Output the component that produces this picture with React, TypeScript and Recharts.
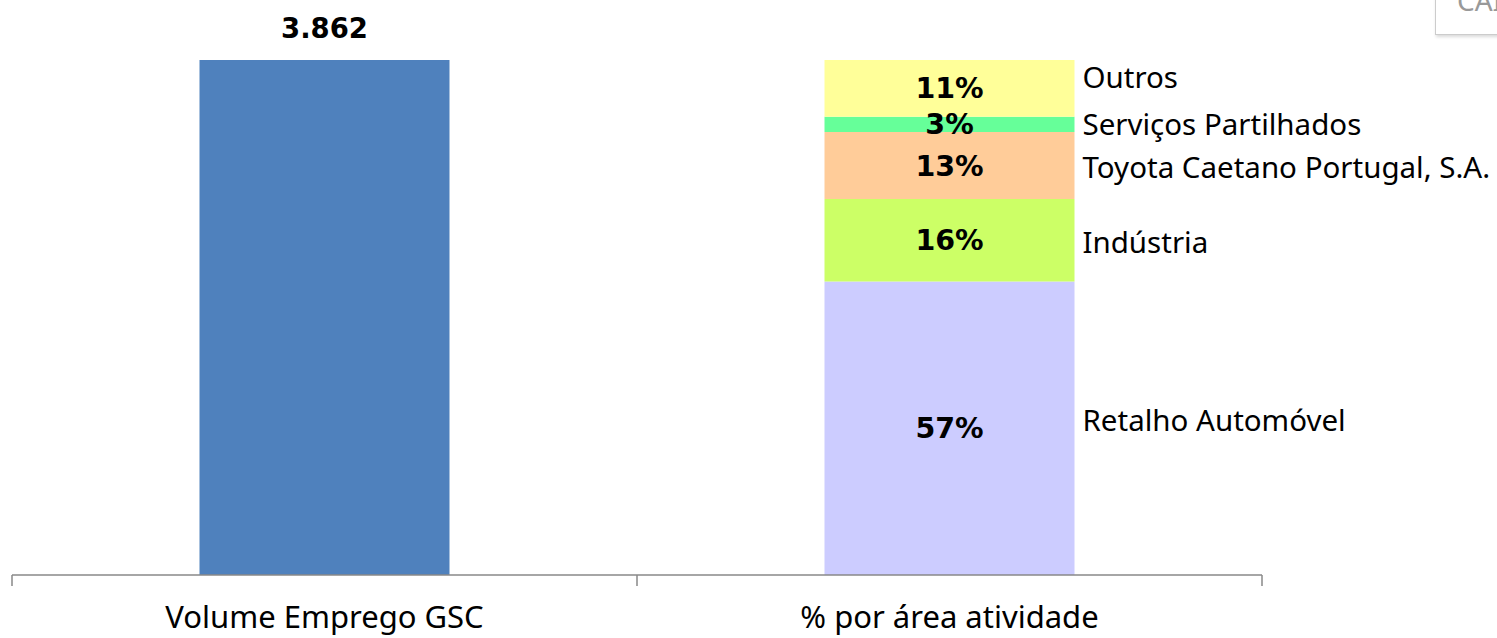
import { Bar, BarChart, LabelList, XAxis, YAxis } from 'recharts';

const categories = ['Volume Emprego GSC', '% por área atividade'];
const volume = [3862, null];

const areas = ['Retalho Automóvel', 'Indústria', 'Toyota Caetano Portugal, S.A.', 'Serviços Partilhados', 'Outros'];
const areaPct = [57, 16, 13, 3, 11];

const AREA_COLORS = ['#CCCCFF', '#CCFF66', '#FFCC99', '#66FF99', '#FFFF99'];
// small nudges so the series names sit where Excel put them
const NAME_DY = [-8, 2.5, 2, 0, -10.5];

const FONT = '"Noto Sans", "Open Sans", sans-serif';
const BOLD_FONT = '"DejaVu Sans", Verdana, sans-serif';
const HALF_BAND = 312.5;

const data = categories.map((name, i) => {
    const row: { [k: string]: string | number | null } = { name, volume: volume[i] };
    areas.forEach((a, j) => {
        row['a' + j] = i === 1 ? areaPct[j] : null;
    });
    return row;
});

const fmtThousands = (v: number) => String(v).replace(/\B(?=(\d{3})+(?!\d))/g, '.');

function CategoryTick(props: any) {
    const { x, y, payload, index } = props;
    return (
        <g>
            <line x1={x - HALF_BAND} x2={x - HALF_BAND} y1={y} y2={y + 11} stroke="#888" strokeWidth={1.5} />
            {index === categories.length - 1 && (
                <line x1={x + HALF_BAND} x2={x + HALF_BAND} y1={y} y2={y + 11} stroke="#888" strokeWidth={1.5} />
            )}
            <text x={x} y={y} dy={53} textAnchor="middle" fontFamily={FONT} fontSize={31} fill="#000">
                {payload.value}
            </text>
        </g>
    );
}

function nameLabel(idx: number) {
    return (props: any) => {
        const { x, y, width, height, value } = props;
        if (value == null) return null;
        return (
            <text
                x={x + width + 8}
                y={y + height / 2 + 10.5 + NAME_DY[idx]}
                fontFamily={FONT}
                fontSize={29.5}
                fill="#000"
            >
                {areas[idx]}
            </text>
        );
    };
}

export default function App() {
    return (
        <div style={{ position: 'absolute', left: 0, top: 0, width: 1497, height: 638, overflow: 'hidden', background: '#fff' }}>
            <BarChart
                width={1497}
                height={638}
                data={data}
                margin={{ top: 60, right: 235, left: 12, bottom: 33 }}
                barCategoryGap="30%"
            >
                <XAxis xAxisId="vol" dataKey="name" hide />
                <XAxis
                    xAxisId="pct"
                    dataKey="name"
                    height={30}
                    tick={<CategoryTick />}
                    tickLine={false}
                    tickSize={0}
                    tickMargin={0}
                    axisLine={{ stroke: '#888', strokeWidth: 1.5 }}
                    interval={0}
                />
                <YAxis yAxisId="vol" domain={[0, 3862]} hide />
                <YAxis yAxisId="pct" domain={[0, 100]} hide />
                <Bar xAxisId="vol" yAxisId="vol" dataKey="volume" fill="#4F81BD" isAnimationActive={false}>
                    <LabelList
                        dataKey="volume"
                        position="top"
                        offset={22}
                        formatter={(v: any) => (v == null ? '' : fmtThousands(v))}
                        style={{ fontFamily: BOLD_FONT, fontSize: 27.5, fontWeight: 700, fill: '#000' }}
                    />
                </Bar>
                {areas.map((a, j) => (
                    <Bar
                        key={a}
                        xAxisId="pct"
                        yAxisId="pct"
                        dataKey={'a' + j}
                        stackId="pct"
                        fill={AREA_COLORS[j]}
                        isAnimationActive={false}
                    >
                        <LabelList
                            dataKey={'a' + j}
                            position="center"
                            formatter={(v: any) => (v == null ? '' : v + '%')}
                            style={{ fontFamily: BOLD_FONT, fontSize: 28.5, fontWeight: 700, fill: '#000' }}
                        />
                        <LabelList dataKey={'a' + j} content={nameLabel(j)} />
                    </Bar>
                ))}
            </BarChart>
            <div
                style={{
                    position: 'absolute',
                    left: 1435,
                    top: -20,
                    width: 120,
                    height: 55,
                    border: '1px solid #ccc',
                    boxShadow: '1px 2px 3px rgba(0,0,0,0.15)',
                    background: '#fff',
                    fontFamily: FONT,
                    fontSize: 28,
                    lineHeight: '28px',
                    color: '#999',
                    boxSizing: 'border-box',
                }}
            >
                <span style={{ position: 'absolute', left: 21, top: 5 }}>CAI</span>
            </div>
        </div>
    );
}
